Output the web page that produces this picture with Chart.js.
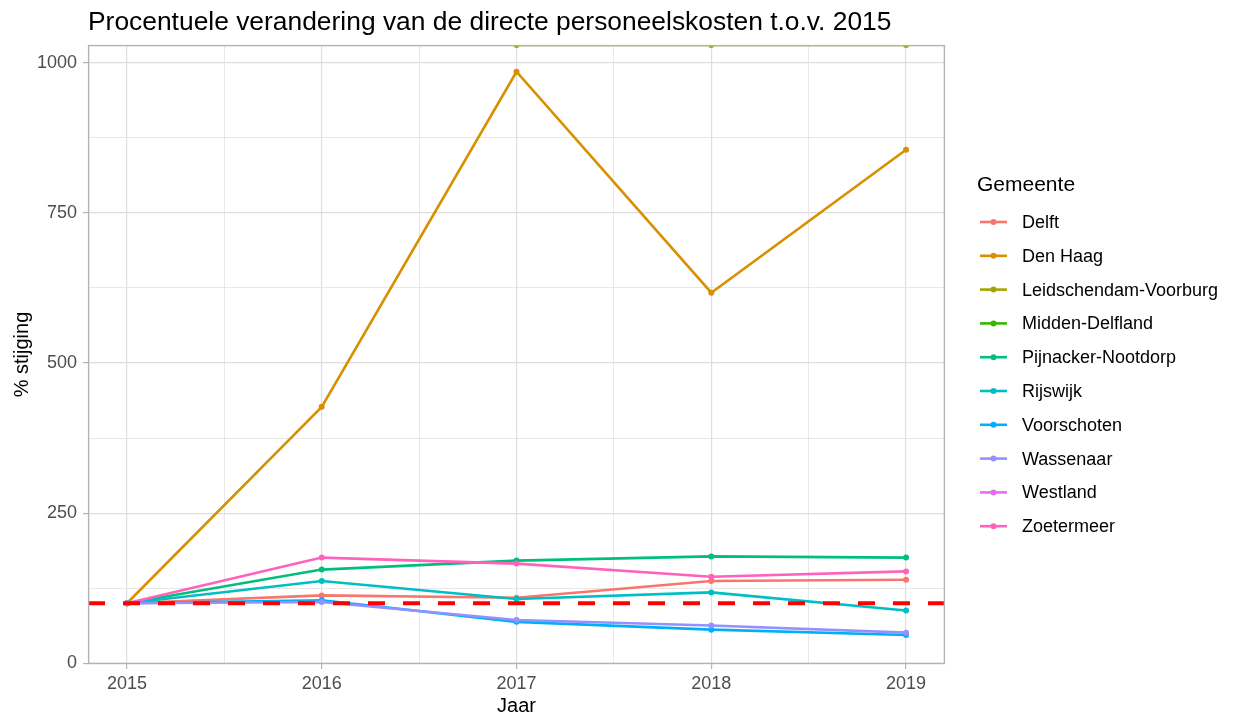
<!DOCTYPE html>
<html>
<head>
<meta charset="utf-8">
<title>Procentuele verandering personeelskosten</title>
<script src="https://cdn.jsdelivr.net/npm/chart.js@4.4.1/dist/chart.umd.min.js"></script>
<style>
  html, body { margin: 0; padding: 0; background: #fff; }
  #wrap { width: 1239px; height: 719px; }
</style>
</head>
<body>
<div id="wrap"><canvas id="kostenChart" width="1239" height="719"></canvas></div>
<script>
// Index t.o.v. 2015 (2015 = 100). Infinity = basisjaar 0, null = geen waarde.
const years = [2015, 2016, 2017, 2018, 2019];

const delft = [100, 113, 109, 137, 139];
const denHaag = [100, 427, 985, 617, 855];
const leidschendamVoorburg = [null, null, Infinity, Infinity, Infinity];
const middenDelfland = [null, null, null, null, null];
const pijnackerNootdorp = [100, 156, 171, 178, 176];
const rijswijk = [100, 137, 107, 118, 88];
const voorschoten = [100, 105, 69, 56, 47];
const wassenaar = [100, 102, 72, 63, 51];
const westland = [null, null, null, null, null];
const zoetermeer = [100, 176, 166, 144, 153];

const gemeenten = ["Delft", "Den Haag", "Leidschendam-Voorburg", "Midden-Delfland",
  "Pijnacker-Nootdorp", "Rijswijk", "Voorschoten", "Wassenaar", "Westland", "Zoetermeer"];
const reeksen = [delft, denHaag, leidschendamVoorburg, middenDelfland,
  pijnackerNootdorp, rijswijk, voorschoten, wassenaar, westland, zoetermeer];
const kleuren = ["#F8766D", "#D89000", "#A3A500", "#39B600", "#00BF7D",
  "#00BFC4", "#00B0F6", "#9590FF", "#E76BF3", "#FF62BC"];

const BASELINE = 100;
const xMajor = [2015, 2016, 2017, 2018, 2019];
const xMinor = [2015.5, 2016.5, 2017.5, 2018.5];
const yMajor = [0, 250, 500, 750, 1000];
const yMinor = [125, 375, 625, 875];

const X_MIN = 2014.8, X_MAX = 2019.2;
const Y_MIN = -1.2, Y_MAX = 1029.5;

const FONT = '"Liberation Sans", Arial, sans-serif';
Chart.defaults.font.family = FONT;

const datasets = gemeenten.map((naam, i) => ({
  label: naam,
  data: years.map((jaar, j) => {
    const v = reeksen[i][j];
    // oneindige waarden komen tegen de bovenrand van het paneel
    return { x: jaar, y: v === Infinity ? Y_MAX : v };
  }),
  borderColor: kleuren[i],
  backgroundColor: kleuren[i],
  pointBackgroundColor: kleuren[i],
  borderWidth: 2.6,
  pointRadius: 3,
  pointBorderWidth: 0,
  pointHoverRadius: 3,
  tension: 0,
  spanGaps: false,
  clip: 0,
  // later in de lijst = bovenop getekend
  order: gemeenten.length - i
}));

const isMajor = (list, v) => list.includes(v);

const decorPlugin = {
  id: 'decor',
  afterDatasetsDraw(chart) {
    const { ctx, chartArea: a, scales } = chart;
    const y = scales.y.getPixelForValue(BASELINE);

    // rode stippellijn op 100%
    ctx.save();
    ctx.beginPath();
    ctx.rect(a.left, a.top, a.right - a.left, a.bottom - a.top);
    ctx.clip();
    ctx.strokeStyle = '#FF0000';
    ctx.lineWidth = 4;
    ctx.setLineDash([17, 18]);
    ctx.beginPath();
    ctx.moveTo(a.left, y);
    ctx.lineTo(a.right, y);
    ctx.stroke();
    ctx.restore();

    // paneelrand
    ctx.save();
    ctx.strokeStyle = '#B3B3B3';
    ctx.lineWidth = 1.4;
    ctx.strokeRect(a.left + 0.6, a.top + 0.6, a.right - a.left - 1.2, a.bottom - a.top - 1.2);
    ctx.restore();
  },
  afterDraw(chart) {
    const { ctx, chartArea: a } = chart;
    ctx.save();
    ctx.fillStyle = '#000';

    // titel
    ctx.font = '26.4px ' + FONT;
    ctx.textAlign = 'left';
    ctx.textBaseline = 'alphabetic';
    ctx.fillText('Procentuele verandering van de directe personeelskosten t.o.v. 2015', a.left, 30);

    // astitels
    ctx.font = '20px ' + FONT;
    ctx.textAlign = 'center';
    ctx.fillText('Jaar', (a.left + a.right) / 2, 712);
    ctx.save();
    ctx.translate(28, (a.top + a.bottom) / 2);
    ctx.rotate(-Math.PI / 2);
    ctx.fillText('% stijging', 0, 0);
    ctx.restore();

    // legenda
    ctx.textAlign = 'left';
    ctx.textBaseline = 'middle';
    ctx.font = '21px ' + FONT;
    ctx.fillText('Gemeente', 977, 185);
    ctx.font = '18px ' + FONT;
    gemeenten.forEach((naam, i) => {
      const yy = 222 + i * 33.8;
      ctx.strokeStyle = kleuren[i];
      ctx.lineWidth = 2.6;
      ctx.beginPath();
      ctx.moveTo(980, yy);
      ctx.lineTo(1007, yy);
      ctx.stroke();
      ctx.fillStyle = kleuren[i];
      ctx.beginPath();
      ctx.arc(993.5, yy, 3, 0, Math.PI * 2);
      ctx.fill();
      ctx.fillStyle = '#000';
      ctx.fillText(naam, 1022, yy + 1);
    });
    ctx.restore();
  }
};

const ctx = document.getElementById('kostenChart').getContext('2d');

const kostenChart = new Chart(ctx, {
  type: 'line',
  data: { datasets: datasets },
  options: {
    responsive: false,
    animation: false,
    layout: { padding: { left: 0, top: 45, right: 294, bottom: 0 } },
    plugins: {
      legend: { display: false },
      title: { display: false },
      tooltip: { enabled: false }
    },
    scales: {
      x: {
        type: 'linear',
        min: X_MIN,
        max: X_MAX,
        afterBuildTicks: scale => {
          scale.ticks = xMajor.concat(xMinor).sort((p, q) => p - q).map(v => ({ value: v }));
        },
        afterFit: scale => { scale.height = 55; },
        ticks: {
          autoSkip: false,
          maxRotation: 0,
          padding: 4,
          color: '#4D4D4D',
          font: { size: 18 },
          callback: v => isMajor(xMajor, v) ? String(v) : ''
        },
        grid: {
          color: '#DEDEDE',
          lineWidth: c => isMajor(xMajor, c.tick.value) ? 1.2 : 0.7,
          drawTicks: true,
          tickLength: 5,
          tickWidth: 1.2,
          tickColor: c => isMajor(xMajor, c.tick.value) ? '#B3B3B3' : 'rgba(0,0,0,0)'
        },
        border: { display: false }
      },
      y: {
        type: 'linear',
        min: Y_MIN,
        max: Y_MAX,
        afterBuildTicks: scale => {
          scale.ticks = yMajor.concat(yMinor).sort((p, q) => p - q).map(v => ({ value: v }));
        },
        afterFit: scale => { scale.width = 88; },
        ticks: {
          autoSkip: false,
          padding: 6,
          color: '#4D4D4D',
          font: { size: 18 },
          callback: v => isMajor(yMajor, v) ? String(v) : ''
        },
        grid: {
          color: '#DEDEDE',
          lineWidth: c => isMajor(yMajor, c.tick.value) ? 1.2 : 0.7,
          drawTicks: true,
          tickLength: 5,
          tickWidth: 1.2,
          tickColor: c => isMajor(yMajor, c.tick.value) ? '#B3B3B3' : 'rgba(0,0,0,0)'
        },
        border: { display: false }
      }
    }
  },
  plugins: [decorPlugin]
});
</script>
</body>
</html>
